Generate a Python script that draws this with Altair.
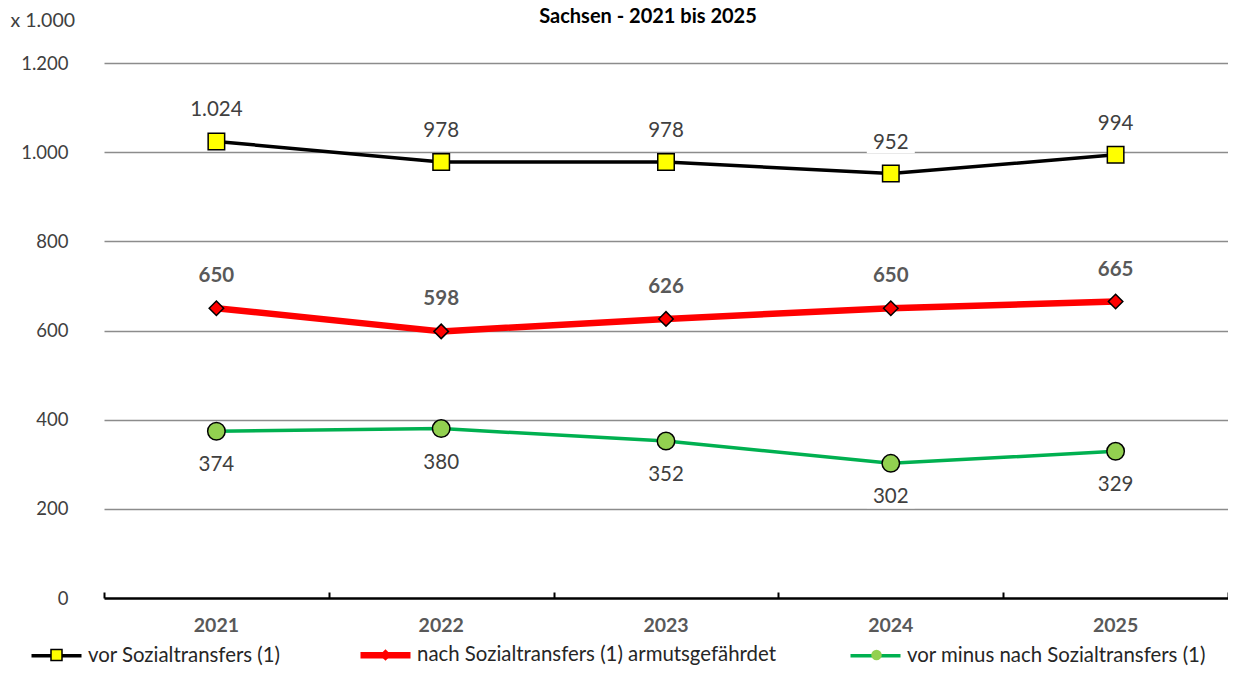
import math
import altair as alt
import pandas as pd

# ---- data -------------------------------------------------------------
years = ["2021", "2022", "2023", "2024", "2025"]
series_names = [
    "vor Sozialtransfers (1)",
    "nach Sozialtransfers (1) armutsgefährdet",
    "vor minus nach Sozialtransfers (1)",
]
vor = [1024, 978, 978, 952, 994]
nach = [650, 598, 626, 650, 665]
diff = [374, 380, 352, 302, 329]
y_ticks = [0, 200, 400, 600, 800, 1000, 1200]

# ---- styles -----------------------------------------------------------
FONT = "Lato"
line_colors = ["#000000", "#ff0000", "#00b050"]
line_widths = [3.5, 6.5, 3.5]
marker_fills = ["#ffff00", "#ff0000", "#92d050"]
marker_shapes = ["square", "diamond", "circle"]
marker_sizes = [272, 210, 306]
legend_marker_sizes = [121, 132, 110]
label_dy = [-31, -32, 34]
label_colors = ["#404040", "#595959", "#404040"]
label_weights = ["normal", "bold", "normal"]
box_path = "M-1,-0.45H1V0.45H-1Z"

# layout (page pixels) of the legend
PLOT_LEFT, PLOT_TOP = 104, 63
LEG_CY = 655
LEG_SYMBOL_CX = [56.5, 385.5, 876.5]

rows = []
for s, vals in zip(series_names, [vor, nach, diff]):
    for yr, v in zip(years, vals):
        rows.append({"series": s, "series_a": s, "series_b": s, "series_c": s,
                     "year": yr, "value": v,
                     "label": f"{v:,}".replace(",", ".")})
df = pd.DataFrame(rows)

base = alt.Chart(df)

x_scale = alt.Scale(type="band", paddingInner=0, paddingOuter=0)
x_main = alt.X(
    "year:O", scale=x_scale,
    axis=alt.Axis(
        orient="bottom", title=None, labelAngle=0, domainColor="black",
        domainWidth=2.5, ticks=False,
        labelFont=FONT, labelFontSize=19.5, labelFontWeight="bold",
        labelColor="#595959", labelPadding=18, zindex=2,
    ),
)
x_ticks = alt.X(
    "year:O", scale=x_scale,
    axis=alt.Axis(
        orient="bottom", title=None, domain=False, labels=False,
        tickBand="extent", tickColor="black", tickWidth=2, tickSize=6,
        offset=-6, zindex=2,
    ),
)
y_enc = alt.Y(
    "value:Q",
    scale=alt.Scale(domain=[0, 1200], nice=False),
    axis=alt.Axis(
        values=y_ticks, grid=True, gridColor="#8c8c8c", gridWidth=1.5,
        gridOpacity={"condition": {"test": "datum.value === 0", "value": 0}, "value": 1},
        domain=False, ticks=False, labelPadding=36,
        labelExpr="replace(format(datum.value, ','), ',', '.')",
        labelFont=FONT, labelFontSize=18.5, labelColor="#404040",
        title="x 1.000", titleAngle=0, titleX=-94, titleY=-43,
        titleAlign="left", titleBaseline="middle", titleFont=FONT,
        titleFontSize=19.5, titleFontWeight="normal", titleColor="#404040",
    ),
)

# line legend (with the labels)
LINE_SYM = 2500
line_off = math.ceil(math.sqrt(LINE_SYM) + max(line_widths))
legend_lines = alt.Legend(
    orient="none", legendX=LEG_SYMBOL_CX[0] - 25 - 3.5 - PLOT_LEFT,
    legendY=LEG_CY - PLOT_TOP - line_off / 2,
    direction="horizontal", columns=3, columnPadding=66,
    symbolType="M-1,0H1", symbolSize=LINE_SYM, labelOffset=3,
    labelFont=FONT, labelFontSize=20.4, labelColor="#262626",
    labelLimit=0, title=None, padding=0,
)


def marker_legend(i):
    off = math.ceil(math.sqrt(legend_marker_sizes[i]) + 1.5)
    return alt.Legend(
        orient="none", direction="vertical",
        legendX=LEG_SYMBOL_CX[i] - off / 2 - PLOT_LEFT,
        legendY=LEG_CY - PLOT_TOP - off / 2,
        symbolType=marker_shapes[i], symbolSize=legend_marker_sizes[i],
        symbolFillColor=marker_fills[i], symbolStrokeColor="black",
        symbolStrokeWidth=1.5, symbolOpacity=1, labelOpacity=0, labelFontSize=1,
        labelOffset=0, labelLimit=1, title=None, padding=0, zindex=2,
    )


main_layers = []
# white boxes behind the value labels
for i, s in enumerate(series_names):
    main_layers.append(
        base.transform_filter(alt.datum.series == s)
        .mark_point(shape=box_path, filled=True, fill="white", opacity=1,
                    strokeWidth=0, size=2304, yOffset=label_dy[i])
        .encode(x=x_main, y=y_enc)
    )

lines = base.mark_line(strokeCap="butt", strokeJoin="round").encode(
    x=x_main, y=y_enc,
    stroke=alt.Stroke("series:N", scale=alt.Scale(domain=series_names, range=line_colors),
                      legend=legend_lines),
    strokeWidth=alt.StrokeWidth(
        "series:N",
        scale=alt.Scale(type="ordinal", domain=series_names, range=line_widths),
        legend=legend_lines),
)
main_layers.append(lines)

# markers; each series carries a one-entry legend for its marker symbol
for i, s in enumerate(series_names):
    enc = dict(x=x_main, y=y_enc)
    sub = base.transform_filter(alt.datum.series == s)
    if i == 0:
        enc["fill"] = alt.Fill("series_a:N", scale=alt.Scale(range=[marker_fills[0]]),
                               legend=marker_legend(0))
        mark = sub.mark_point(filled=True, opacity=1, stroke="black", strokeWidth=1.5,
                              shape=marker_shapes[i], size=marker_sizes[i])
    elif i == 1:
        enc["opacity"] = alt.Opacity("series_b:N",
                                     scale=alt.Scale(type="ordinal", range=[1]),
                                     legend=marker_legend(1))
        mark = sub.mark_point(filled=True, fill=marker_fills[i], stroke="black",
                              strokeWidth=1.5, shape=marker_shapes[i],
                              size=marker_sizes[i])
    else:
        enc["shape"] = alt.Shape("series_c:N",
                                 scale=alt.Scale(range=[marker_shapes[i]]),
                                 legend=marker_legend(2))
        mark = sub.mark_point(filled=True, fill=marker_fills[i], opacity=1,
                              stroke="black", strokeWidth=1.5, size=marker_sizes[i])
    main_layers.append(mark.encode(**enc))

for i, s in enumerate(series_names):
    main_layers.append(
        base.transform_filter(alt.datum.series == s)
        .mark_text(dy=label_dy[i], font=FONT, fontSize=20.5,
                   fontWeight=label_weights[i], color=label_colors[i])
        .encode(x=x_main, y=y_enc, text="label:N")
    )

main = alt.layer(*main_layers)

# invisible layer that only carries the upward axis ticks at band edges
tick_layer = base.mark_point(opacity=0, size=0).encode(x=x_ticks, y=y_enc)

chart = (
    alt.layer(main, tick_layer)
    .resolve_axis(x="independent")
    .properties(
        width=1124, height=535,
        padding={"left": 96, "top": 55, "right": 0, "bottom": 68},
        autosize=alt.AutoSizeParams(type="none"),
        title=alt.TitleParams(
            "Sachsen - 2021 bis 2025", font=FONT, fontSize=20, fontWeight="bold",
            color="black", anchor="middle", frame="group", dx=-18, offset=-17,
        ),
    )
    .configure_view(stroke=None)
)

chart.save("out.html", embed_options={"renderer": "svg", "actions": False})
